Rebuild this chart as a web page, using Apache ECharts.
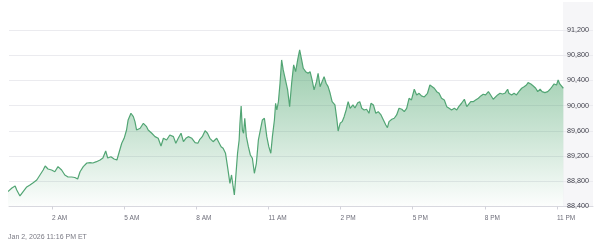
<!DOCTYPE html>
<html>
<head>
<meta charset="utf-8">
<script src="https://cdn.jsdelivr.net/npm/echarts@6/dist/echarts.min.js"></script>
<style>
html,body{margin:0;padding:0;background:#fff;}
#chart{width:606px;height:243px;}
</style>
</head>
<body>
<div id="chart"></div>
<script>
// minutes after midnight ET, Jan 2, 2026
const timeMin = [10,20,28,32,40,48,57,65,73,82,
90,98,103,110,119,127,135,144,152,160,
169,177,184,190,198,207,215,222,231,240,
247,254,259,267,275,282,287,294,300,306,
310,317,323,327,331,340,348,356,360,369,
377,385,392,398,406,414,423,429,435,442,
448,454,460,469,477,484,489,495,502,508,
514,522,531,535,542,547,553,558,564,568,
572,575,578,583,587,589,592,595,598,601,
605,610,615,620,625,630,635,640,645,650,
656,661,666,670,675,678,681,685,689,693,
697,701,708,713,718,723,728,733,738,743,
747,753,759,764,769,774,780,784,789,794,
799,804,809,814,819,826,831,834,839,844,
849,854,859,864,871,876,883,888,893,899,
905,911,916,922,928,934,941,947,953,957,
961,968,974,980,986,993,999,1005,1011,1017,
1024,1030,1036,1042,1049,1057,1063,1067,1074,1080,
1086,1092,1099,1105,1111,1117,1124,1130,1135,1142,
1149,1155,1159,1165,1171,1177,1184,1190,1196,1202,
1209,1213,1221,1225,1232,1238,1244,1250,1257,1260,
1267,1273,1279,1285,1292,1298,1304,1308,1315,1321,
1327,1332,1338,1343,1350,1357,1363,1368,1373,1379,
1383,1387,1396];

const prices = [88638,88694,88725,88662,88567,88635,88710,88741,88778,88821,
88900,88979,89043,88995,88979,88952,89032,88979,88900,88868,
88868,88860,88836,88952,89032,89090,89095,89090,89111,89138,
89170,89281,89170,89190,89154,89138,89249,89403,89482,89614,
89773,89879,89825,89746,89614,89641,89720,89666,89614,89562,
89508,89482,89360,89482,89455,89535,89508,89403,89482,89562,
89428,89482,89508,89482,89412,89403,89466,89508,89603,89562,
89482,89428,89482,89455,89349,89324,89244,89032,88768,88900,
88714,88583,88821,89244,89455,89720,89995,89614,89562,89800,
89508,89349,89217,89165,88927,89086,89455,89614,89773,89800,
89508,89349,89244,89508,89773,90038,89931,90063,90355,90725,
90566,90539,90249,89984,90355,90646,90539,90725,90884,90725,
90593,90539,90514,90539,90408,90249,90381,90514,90301,90381,
90460,90355,90301,90196,90063,90011,89773,89598,89720,89746,
89825,89931,90063,89958,90011,89963,90047,90063,89958,89931,
89943,89879,90038,90011,89879,89904,89852,89773,89693,89651,
89746,89784,89800,89852,89958,89943,89904,89958,90117,90090,
90260,90170,90196,90154,90138,90196,90328,90355,90276,90222,
90196,90117,90090,89984,89958,89931,89958,89931,89984,90038,
90101,89984,89958,90063,90063,90090,90117,90154,90181,90170,
90222,90185,90101,90090,90170,90196,90185,90196,90260,90196,
90170,90196,90170,90222,90276,90301,90328,90365,90344,90312,
90276,90222,90260,90222,90206,90222,90260,90301,90344,90328,
90408,90344,90276];

const xTickMinutes = [120,300,480,660,840,1020,1200,1380];
const yTicks = [88400,88800,89200,89600,90000,90400,90800,91200];
const timestampText = 'Jan 2, 2026 11:16 PM ET';

const seriesData = timeMin.map((t, i) => [t, prices[i]]);

function fmtTime(v) {
  const h = Math.round(v / 60) % 24;
  const suffix = h < 12 ? 'AM' : 'PM';
  let h12 = h % 12; if (h12 === 0) h12 = 12;
  return h12 + ' ' + suffix;
}

const chart = echarts.init(document.getElementById('chart'), null, {renderer: 'canvas'});
chart.setOption({
  animation: false,
  backgroundColor: '#ffffff',
  grid: {left: 9, right: 13, top: 30, bottom: 36.5, containLabel: false},
  graphic: [
    {type: 'rect', z: -10, silent: true,
     shape: {x: 563, y: 2, width: 30, height: 205},
     style: {fill: '#f6f6f8'}},
    {type: 'text', silent: true, x: 8, y: 237,
     style: {text: timestampText, fontSize: 7, fontFamily: 'Liberation Sans, Arial, sans-serif',
             fill: '#7a7a84', verticalAlign: 'middle', align: 'left'}}
  ],
  xAxis: {
    type: 'value',
    min: 12.7,
    max: 1470,
    axisLine: {show: true, lineStyle: {color: '#d9d9e0', width: 1}},
    axisTick: {show: true, length: 3, lineStyle: {color: '#d2d2da'}, customValues: xTickMinutes},
    axisLabel: {
      customValues: xTickMinutes,
      formatter: fmtTime,
      align: 'left',
      margin: 8,
      fontSize: 6.5,
      color: '#6e6e7a',
      fontFamily: 'Liberation Sans, Arial, sans-serif'
    },
    splitLine: {show: false}
  },
  yAxis: {
    type: 'value',
    position: 'right',
    min: 88400,
    max: 91200,
    interval: 400,
    axisLine: {show: false},
    axisTick: {show: false},
    axisLabel: {
      inside: true,
      align: 'left',
      margin: 26,
      verticalAlign: 'middle',
      lineHeight: 9,
      padding: [0, 0, 8, 0],
      fontSize: 7.2,
      color: '#44444f',
      fontFamily: 'Liberation Sans, Arial, sans-serif',
      formatter: v => v.toLocaleString('en-US')
    },
    splitLine: {show: true, lineStyle: {color: '#ebebef', width: 1}}
  },
  series: [{
    type: 'line',
    data: seriesData,
    showSymbol: false,
    symbol: 'none',
    lineStyle: {color: '#52a574', width: 1.2},
    itemStyle: {color: '#52a574'},
    areaStyle: {
      color: new echarts.graphic.LinearGradient(0, 0, 0, 1, [
        {offset: 0, color: 'rgba(78,165,110,0.85)'},
        {offset: 0.5, color: 'rgba(78,165,110,0.45)'},
        {offset: 1, color: 'rgba(78,165,110,0.02)'}
      ])
    },
    z: 3
  }]
});
</script>
</body>
</html>
